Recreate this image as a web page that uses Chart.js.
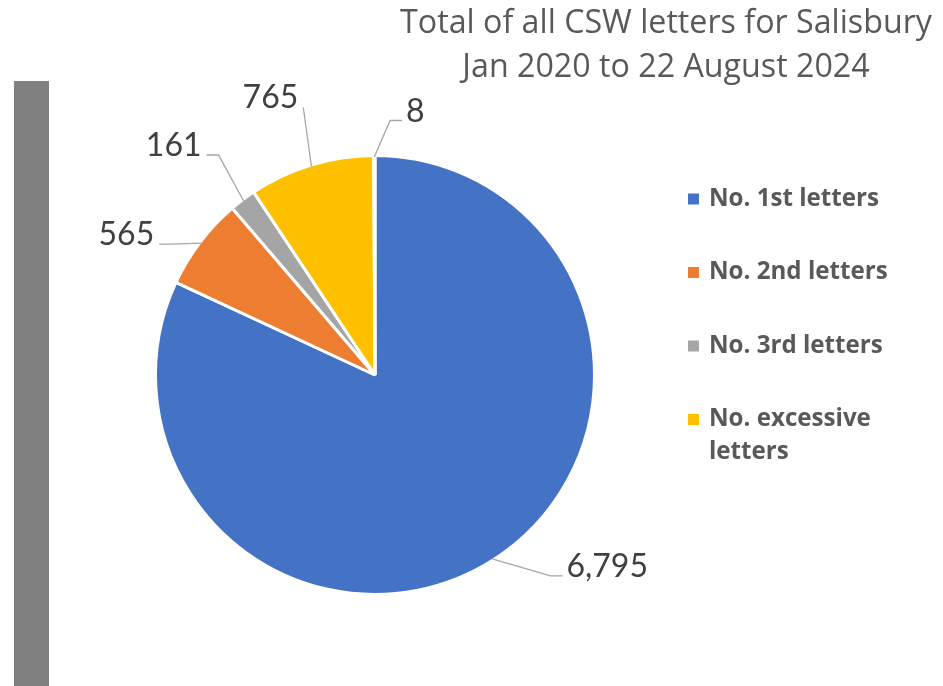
<!DOCTYPE html>
<html>
<head>
<meta charset="utf-8">
<script src="https://cdn.jsdelivr.net/npm/chart.js@4.4.1/dist/chart.umd.min.js"></script>
<style>
    html, body { margin: 0; padding: 0; background: #fff; }
    #wrap { position: relative; width: 943px; height: 686px; overflow: hidden; }
    #barra { position: absolute; left: 14px; top: 81px; width: 35px; height: 605px; background: #808080; }
    #graficoPizza { position: absolute; left: 0; top: 0; }
</style>
</head>
<body>
<div id="wrap">
    <div id="barra"></div>
    <canvas id="graficoPizza" width="943" height="686"></canvas>
</div>
<script>
// dados do grafico
const categorias = ['No. 1st letters', 'No. 2nd letters', 'No. 3rd letters', 'No. excessive letters', ''];
const valores = [6795, 565, 161, 765, 8];
const cores = ['#4472C4', '#ED7D31', '#A5A5A5', '#FFC000', '#5B9BD5'];
const titulo = ['Total of all CSW letters for Salisbury', 'Jan 2020 to 22 August 2024'];
const legendaTextos = [['No. 1st letters'], ['No. 2nd letters'], ['No. 3rd letters'], ['No. excessive', 'letters']];

// posicao dos rotulos em relacao a borda da fatia (dx, dy da linha de base), e tamanho do cotovelo
const rotulosPos = [
    { dx: 115, dy: 18, cotovelo: 12 },
    { dx: -75, dy: 2, cotovelo: 12 },
    { dx: -70, dy: -45, cotovelo: 12 },
    { dx: -41, dy: -58, cotovelo: 0 },
    { dx: 41, dy: -35.5, cotovelo: 12 }
];

// acha o tamanho de fonte que deixa o texto com a largura desejada
function tamanhoParaLargura(ctx, texto, largura, peso, familia) {
    ctx.font = peso + ' 100px ' + familia;
    return 100 * largura / ctx.measureText(texto).width;
}

const pluginDesenho = {
    id: 'desenhoExtra',
    afterDraw(chart) {
        const ctx = chart.ctx;
        const meta = chart.getDatasetMeta(0);
        ctx.save();

        // titulo
        const tamTitulo = tamanhoParaLargura(ctx, titulo[0], 532, 'normal', '"Open Sans"');
        ctx.fillStyle = '#595959';
        ctx.font = tamTitulo.toFixed(2) + 'px "Open Sans"';
        ctx.textAlign = 'center';
        ctx.textBaseline = 'alphabetic';
        ctx.fillText(titulo[0], 666, 33);
        ctx.fillText(titulo[1], 666, 77);

        // rotulos de dados com linhas guia
        ctx.font = '32px Lato';
        meta.data.forEach((arc, i) => {
            const p = arc.getProps(['x', 'y', 'startAngle', 'endAngle', 'outerRadius'], true);
            const meio = (p.startAngle + p.endAngle) / 2;
            const r = p.outerRadius - 1.5;
            const bx = p.x + Math.cos(meio) * r;
            const by = p.y + Math.sin(meio) * r;
            const pos = rotulosPos[i];
            const texto = valores[i].toLocaleString('en-US');
            const w = ctx.measureText(texto).width;
            const cx = bx + pos.dx;
            const base = by + pos.dy;
            const esquerda = cx < bx;
            const ax = esquerda ? cx + w / 2 + 5 : cx - w / 2 - 4;
            const ay = base - 1;
            const ex = esquerda ? ax + pos.cotovelo : ax - pos.cotovelo;

            ctx.strokeStyle = '#A6A6A6';
            ctx.lineWidth = 1.3;
            ctx.beginPath();
            ctx.moveTo(ax, ay);
            ctx.lineTo(ex, ay);
            ctx.lineTo(bx, by);
            ctx.stroke();

            ctx.fillStyle = '#404040';
            ctx.textAlign = 'center';
            ctx.fillText(texto, cx, base);
        });

        // legenda
        const tamLegenda = tamanhoParaLargura(ctx, legendaTextos[0][0], 170, 'bold', '"Open Sans"');
        ctx.font = 'bold ' + tamLegenda.toFixed(2) + 'px "Open Sans"';
        ctx.textAlign = 'left';
        ctx.textBaseline = 'middle';
        legendaTextos.forEach((linhas, i) => {
            const y = 199 + i * 73.5;
            ctx.fillStyle = cores[i];
            ctx.fillRect(688, y - 5.5, 11, 11);
            ctx.fillStyle = '#595959';
            linhas.forEach((l, k) => ctx.fillText(l, 709, y + k * 33));
        });

        ctx.restore();
    }
};

new Chart(document.getElementById('graficoPizza').getContext('2d'), {
    type: 'pie',
    data: {
        labels: categorias,
        datasets: [{
            data: valores,
            backgroundColor: cores,
            borderColor: '#ffffff',
            borderWidth: 3,
            hoverOffset: 0,
            offset: 0
        }]
    },
    options: {
        responsive: false,
        animation: false,
        events: [],
        layout: { padding: { left: 154, right: 347, top: 154, bottom: 90 } },
        plugins: {
            legend: { display: false },
            title: { display: false },
            tooltip: { enabled: false }
        }
    },
    plugins: [pluginDesenho]
});
</script>
</body>
</html>
